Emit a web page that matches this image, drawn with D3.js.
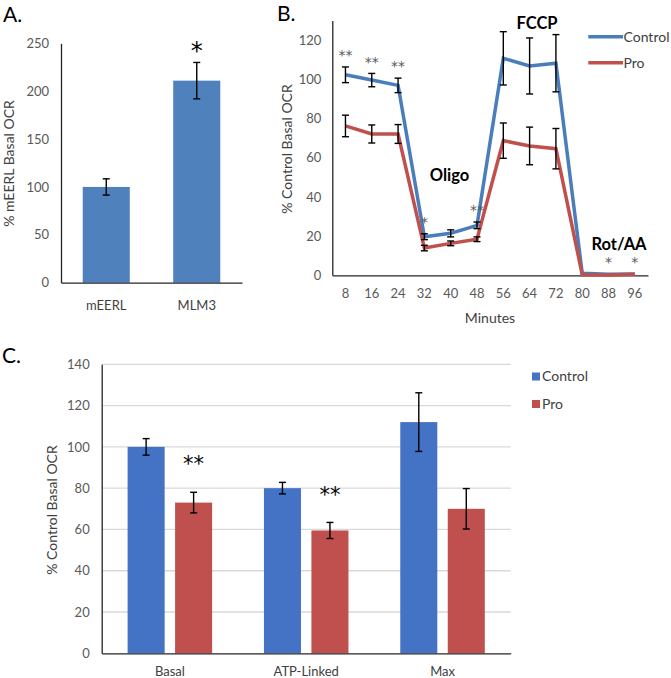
<!DOCTYPE html>
<html><head><meta charset="utf-8">
<script src="https://cdn.jsdelivr.net/npm/d3@7"></script>
<style>
body{margin:0;background:#fff}
svg{display:block}
text{font-family:Lato,"Open Sans",sans-serif}
text.sig{font-family:"DejaVu Sans",sans-serif}
</style>
</head><body>
<svg id="chart" width="671" height="678"></svg>
<script>
// ---------- Panel A data ----------
const aCategories = ["mEERL", "MLM3"];
const aValues = [100, 211];
const aErrors = [8.5, 19];
const aSig = ["", "*"];
const aTicks = [0, 50, 100, 150, 200, 250];

// ---------- Panel B data ----------
const bMinutes = [8, 16, 24, 32, 40, 48, 56, 64, 72, 80, 88, 96];
const bControl = [102.3, 99.6, 96.9, 19.7, 21.4, 25.5, 110.7, 106.8, 108.2, 1.0, 0.5, 0.7];
const bControlErr = [4.0, 3.4, 3.7, 1.5, 1.8, 1.7, 13.6, 14.3, 14.6, 0, 0, 0];
const bPro = [76.2, 72.1, 72.1, 13.9, 16.3, 18.4, 68.7, 66.0, 64.6, 0.3, 0.1, 0.5];
const bProErr = [5.5, 4.6, 4.8, 1.4, 1.2, 1.2, 9.0, 9.6, 10.3, 0, 0, 0];
const bSig = ["**", "**", "**", "*", "", "**", "", "", "", "", "*", "*"];
const bTicks = [0, 20, 40, 60, 80, 100, 120];
const bSeries = ["Control", "Pro"];

// ---------- Panel C data ----------
const cCategories = ["Basal", "ATP-Linked", "Max"];
const cControl = [100, 80, 112];
const cControlErr = [4, 2.8, 14.2];
const cPro = [73, 59.5, 70];
const cProErr = [5, 3.9, 9.8];
const cSig = ["**", "**", ""];
const cTicks = [0, 20, 40, 60, 80, 100, 120, 140];
const cSeries = ["Control", "Pro"];

const svg = d3.select("#chart");
const AXIS = "#262626";
const TICK = "#595959";
const LABEL = "#404040";

function errorBar(g, x, y1, y2, cap) {
  g.append("line").attr("x1", x).attr("x2", x).attr("y1", y1).attr("y2", y2)
    .attr("stroke", "#000").attr("stroke-width", 1.4);
  [y1, y2].forEach(y => g.append("line").attr("x1", x - cap / 2).attr("x2", x + cap / 2)
    .attr("y1", y).attr("y2", y).attr("stroke", "#000").attr("stroke-width", 1.4));
}
function styleAxis(g, color, size) {
  g.select(".domain").attr("stroke", AXIS).attr("stroke-width", 1.3);
  g.selectAll("text").attr("fill", color).attr("font-size", size);
}
// asterisk text whose visual centre sits at (x, cy)
function sig(g, x, cy, txt, size, color) {
  g.append("text").attr("class", "sig").attr("x", x).attr("y", cy + 0.58 * size)
    .attr("text-anchor", "middle").attr("font-size", size).attr("fill", color).text(txt);
}

// =================== Panel A ===================
{
  const g = svg.append("g");
  const y = d3.scaleLinear().domain([0, 250]).range([282.7, 43.3]);
  const x = d3.scaleBand().domain(aCategories).range([61, 242]).paddingInner(0.48).paddingOuter(0.24);

  g.append("text").attr("x", 3).attr("y", 21.5).attr("font-size", 21).attr("fill", "#000").text("A.");

  g.selectAll("rect.bar").data(aCategories).join("rect")
    .attr("x", d => x(d)).attr("width", x.bandwidth())
    .attr("y", (d, i) => y(aValues[i])).attr("height", (d, i) => y(0) - y(aValues[i]))
    .attr("fill", "#4f81bd");

  aCategories.forEach((d, i) => {
    const cx = x(d) + x.bandwidth() / 2;
    errorBar(g, cx, y(aValues[i] + aErrors[i]), y(aValues[i] - aErrors[i]), 7);
    if (aSig[i]) sig(g, cx, y(aValues[i] + aErrors[i]) - 17, aSig[i], 24, "#000");
  });

  const ya = g.append("g").attr("transform", "translate(61,0)")
    .call(d3.axisLeft(y).tickValues(aTicks).tickSize(0).tickPadding(12));
  styleAxis(ya, TICK, 13);
  const xa = g.append("g").attr("transform", `translate(0,${y(0)})`)
    .call(d3.axisBottom(x).tickSize(0).tickSizeOuter(0));
  styleAxis(xa, LABEL, 13);
  xa.selectAll("text").attr("y", 23).attr("dy", "0.35em");

  g.append("text").attr("transform", "translate(14,163.5) rotate(-90)")
    .attr("text-anchor", "middle").attr("font-size", 14).attr("fill", LABEL).text("% mEERL Basal OCR");
}

// =================== Panel B ===================
{
  const g = svg.append("g");
  const y = d3.scaleLinear().domain([0, 130]).range([275.3, 20.5]);
  const x = d3.scaleBand().domain(bMinutes).range([332.3, 648]);
  const cx = m => x(m) + x.bandwidth() / 2;
  const colors = {Control: "#4a7ebb", Pro: "#c0504d"};

  g.append("text").attr("x", 277).attr("y", 20.5).attr("font-size", 21).attr("fill", "#000").text("B.");

  const ya = g.append("g").attr("transform", "translate(332.3,0)")
    .call(d3.axisLeft(y).tickValues(bTicks).tickSize(0).tickPadding(11));
  styleAxis(ya, TICK, 13);
  const xa = g.append("g").attr("transform", `translate(0,${y(0)})`)
    .call(d3.axisBottom(x).tickSize(0).tickSizeOuter(0));
  styleAxis(xa, TICK, 13);
  xa.selectAll("text").attr("y", 18).attr("dy", "0.35em");

  const line = d3.line().x((d, i) => cx(bMinutes[i])).y(d => y(d));
  g.append("path").datum(bControl).attr("d", line).attr("fill", "none")
    .attr("stroke", colors.Control).attr("stroke-width", 3.5).attr("stroke-linejoin", "miter");
  g.append("path").datum(bPro).attr("d", line).attr("fill", "none")
    .attr("stroke", colors.Pro).attr("stroke-width", 3.5).attr("stroke-linejoin", "miter");

  bMinutes.forEach((m, i) => {
    if (bControlErr[i] > 0) errorBar(g, cx(m), y(bControl[i] + bControlErr[i]), y(bControl[i] - bControlErr[i]), 7);
    if (bProErr[i] > 0) errorBar(g, cx(m), y(bPro[i] + bProErr[i]), y(bPro[i] - bProErr[i]), 7);
    if (bSig[i]) sig(g, cx(m), y(bControl[i] + bControlErr[i]) - 15, bSig[i], 14, TICK);
  });

  // annotations
  [["FCCP", 537, 29], ["Oligo", 449.5, 181], ["Rot/AA", 619, 249.5]].forEach(([t, ax, ay]) =>
    g.append("text").attr("x", ax).attr("y", ay).attr("text-anchor", "middle")
      .attr("font-size", 16.5).attr("font-weight", "bold").attr("fill", "#000").text(t));

  // legend
  bSeries.forEach((s, i) => {
    const ly = 36.7 + i * 26;
    g.append("line").attr("x1", 588.3).attr("x2", 623).attr("y1", ly).attr("y2", ly)
      .attr("stroke", colors[s]).attr("stroke-width", 3.5);
    g.append("text").attr("x", 623.5).attr("y", ly).attr("dy", "0.35em")
      .attr("font-size", 14).attr("fill", LABEL).text(s);
  });

  g.append("text").attr("x", 490).attr("y", 318).attr("dy", "0.35em").attr("text-anchor", "middle")
    .attr("font-size", 14).attr("fill", LABEL).text("Minutes");
  g.append("text").attr("transform", "translate(287,149) rotate(-90)")
    .attr("text-anchor", "middle").attr("dy", "0.35em").attr("font-size", 14).attr("fill", LABEL).text("% Control Basal OCR");
}

// =================== Panel C ===================
{
  const g = svg.append("g");
  const y = d3.scaleLinear().domain([0, 140]).range([653.3, 364.3]);
  const x = d3.scaleBand().domain(cCategories).range([101.7, 510.7]).paddingInner(0.38).paddingOuter(0.19);
  const xs = d3.scaleBand().domain(cSeries).range([0, x.bandwidth()]).paddingInner(0.22);
  const colors = {Control: "#4472c4", Pro: "#c0504d"};
  const vals = {Control: cControl, Pro: cPro};
  const errs = {Control: cControlErr, Pro: cProErr};

  g.append("text").attr("x", 2).attr("y", 363).attr("font-size", 21).attr("fill", "#000").text("C.");

  g.selectAll("line.grid").data(cTicks.filter(t => t > 0)).join("line")
    .attr("x1", 101.7).attr("x2", 510.7).attr("y1", d => y(d)).attr("y2", d => y(d))
    .attr("stroke", "#d9d9d9").attr("stroke-width", 1.3);

  cCategories.forEach((c, i) => {
    cSeries.forEach(s => {
      const bx = x(c) + xs(s);
      const v = vals[s][i];
      g.append("rect").attr("x", bx).attr("width", xs.bandwidth())
        .attr("y", y(v)).attr("height", y(0) - y(v)).attr("fill", colors[s]);
    });
    cSeries.forEach(s => {
      const mx = x(c) + xs(s) + xs.bandwidth() / 2;
      const v = vals[s][i], e = errs[s][i];
      errorBar(g, mx, y(v + e), y(v - e), 7);
    });
    if (cSig[i]) {
      const mx = x(c) + xs("Pro") + xs.bandwidth() / 2;
      sig(g, mx, y(cPro[i] + cProErr[i]) - 33, cSig[i], 21, "#000");
    }
  });

  const ya = g.append("g").attr("transform", "translate(101.7,0)")
    .call(d3.axisLeft(y).tickValues(cTicks).tickSize(0).tickPadding(12));
  styleAxis(ya, TICK, 13);
  const xa = g.append("g").attr("transform", `translate(0,${y(0)})`)
    .call(d3.axisBottom(x).tickSize(0).tickSizeOuter(0));
  styleAxis(xa, LABEL, 13);
  xa.selectAll("text").attr("y", 18.5).attr("dy", "0.35em");

  cSeries.forEach((s, i) => {
    const ly = 376.5 + i * 27.5;
    g.append("rect").attr("x", 532).attr("y", ly - 4).attr("width", 8).attr("height", 8).attr("fill", colors[s]);
    g.append("text").attr("x", 542).attr("y", ly).attr("dy", "0.35em")
      .attr("font-size", 14).attr("fill", LABEL).text(s);
  });

  g.append("text").attr("transform", "translate(52.5,510) rotate(-90)")
    .attr("text-anchor", "middle").attr("dy", "0.35em").attr("font-size", 14).attr("fill", LABEL).text("% Control Basal OCR");
}
</script>
</body></html>
